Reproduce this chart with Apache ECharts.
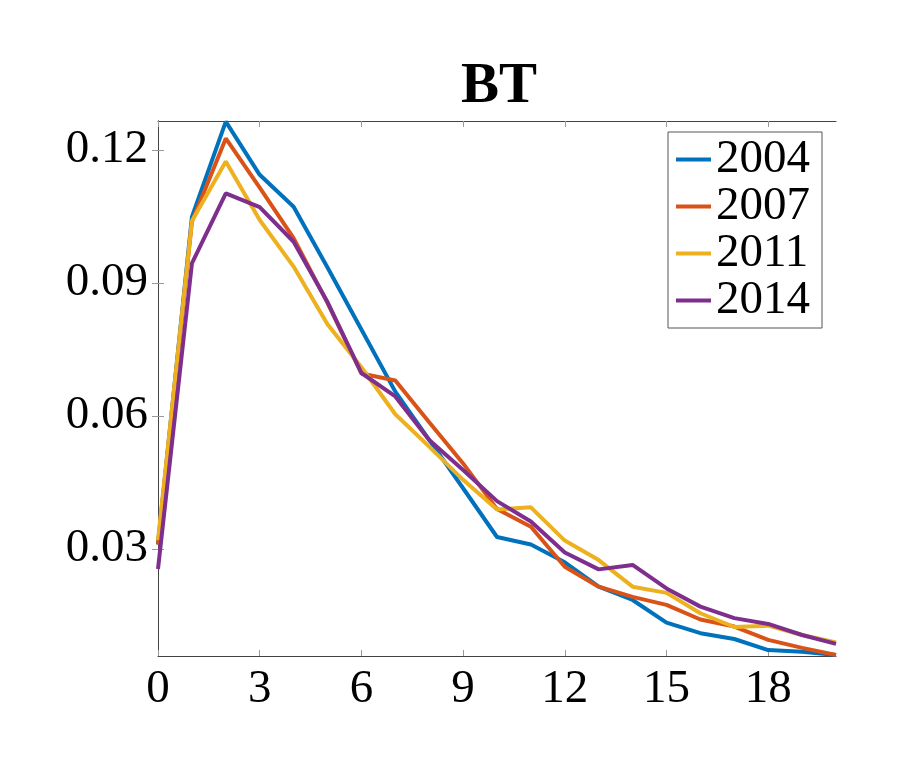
<!DOCTYPE html>
<html>
<head>
<meta charset="utf-8">
<script src="https://cdn.jsdelivr.net/npm/echarts@6/dist/echarts.min.js"></script>
<style>
html,body{margin:0;padding:0;background:#fff;}
#main{width:897px;height:763px;}
</style>
</head>
<body>
<div id="main"></div>
<script>
var xValues = [0,1,2,3,4,5,6,7,8,9,10,11,12,13,14,15,16,17,18,19,20];
var seriesNames = ['2004','2007','2011','2014'];
var s2004 = [0.031,0.1049,0.1264,0.1144,0.1072,0.0935,0.0795,0.0655,0.0546,0.0437,0.0327,0.0310,0.0270,0.0215,0.0185,0.0134,0.0110,0.0097,0.0072,0.0068,0.0061];
var s2007 = [0.031,0.1038,0.1226,0.1115,0.1001,0.0855,0.0696,0.0680,0.0586,0.0493,0.0390,0.0350,0.0260,0.0215,0.0192,0.0174,0.0141,0.0125,0.0095,0.0077,0.0061];
var s2011 = [0.032,0.1040,0.1174,0.1042,0.0937,0.0807,0.0710,0.0604,0.0531,0.0456,0.0389,0.0394,0.0319,0.0275,0.0215,0.0201,0.0155,0.0124,0.0127,0.0106,0.0089];
var s2014 = [0.0255,0.0944,0.1102,0.1071,0.0993,0.0857,0.0697,0.0644,0.0546,0.0478,0.0408,0.0362,0.0292,0.0254,0.0264,0.0211,0.0170,0.0144,0.0131,0.0106,0.0086];
var xTicks = [0,3,6,9,12,15,18];
var yTicks = [0.03,0.06,0.09,0.12];
var colors = ['#0072BD','#D95319','#EDB120','#7E2F8E'];

var allData = [s2004,s2007,s2011,s2014];
var font = 'Liberation Serif';
var chart = echarts.init(document.getElementById('main'));

function pairs(arr){ return xValues.map(function(x,i){ return [x, arr[i]]; }); }

function xAxisDef(pos, showLabel){
  return {
    type:'value', position:pos, min:0, max:20,
    axisLine:{show:true,lineStyle:{color:'#444',width:1}},
    axisTick:{show:true,inside:true,length:6,customValues:xTicks,lineStyle:{color:'#999'}},
    axisLabel:{show:showLabel,customValues:xTicks,margin:10,fontFamily:font,fontSize:47,color:'#000'},
    splitLine:{show:false}
  };
}
function yAxisDef(pos, showLabel){
  return {
    type:'value', position:pos, min:0.00586, max:0.12654,
    axisLine:{show:true,lineStyle:{color:'#444',width:1}},
    axisTick:{show:true,inside:true,length:6,customValues:yTicks,lineStyle:{color:'#999'}},
    axisLabel:{show:showLabel,customValues:yTicks,margin:10,fontFamily:font,fontSize:47,color:'#000',
      formatter:function(v){return v.toFixed(2);}},
    splitLine:{show:false}
  };
}

var option = {
  backgroundColor:'#fff',
  animation:false,
  title:{text:'BT',left:494,textAlign:'center',top:54,textStyle:{fontFamily:font,fontSize:57,fontWeight:'bold',color:'#000'}},
  grid:{left:158,top:121,right:61,bottom:107,containLabel:false},
  xAxis:[xAxisDef('bottom',true), xAxisDef('top',false)],
  yAxis:[yAxisDef('left',true), yAxisDef('right',false)],
  legend:{
    orient:'vertical', left:668, top:132,
    data:seriesNames,
    icon:'rect', itemWidth:35, itemHeight:4, itemGap:0,
    backgroundColor:'#fff', borderColor:'#555', borderWidth:1,
    padding:[4,12,4,8],
    textStyle:{fontFamily:font,fontSize:47,color:'#000',lineHeight:45,padding:[0,0,0,0]}
  },
  series: seriesNames.map(function(n,i){
    return {
      name:n, type:'line', xAxisIndex:0, yAxisIndex:0,
      data:pairs(allData[i]), showSymbol:false, symbol:'none',
      lineStyle:{color:colors[i],width:4}, itemStyle:{color:colors[i]},
      z:2+i
    };
  })
};
chart.setOption(option);
</script>
</body>
</html>
